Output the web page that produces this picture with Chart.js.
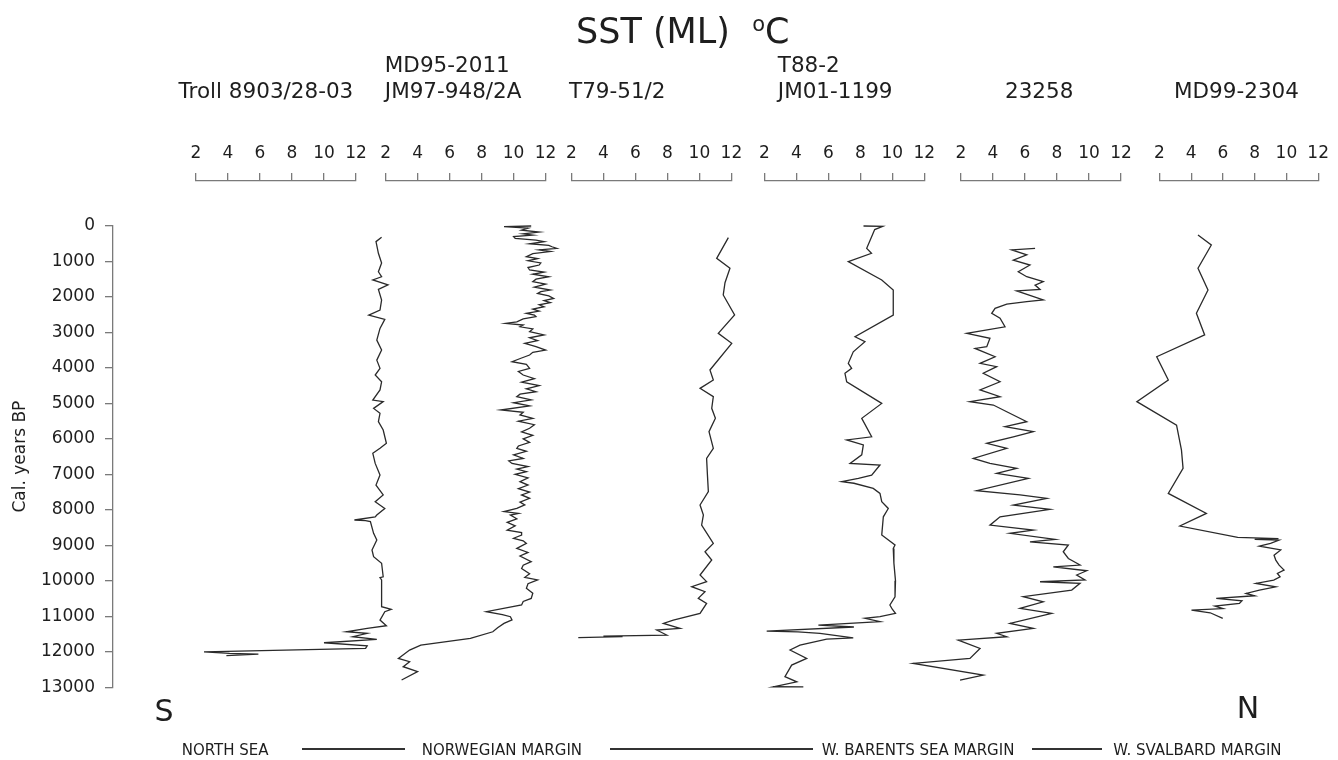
<!DOCTYPE html>
<html><head><meta charset="utf-8">
<script src="https://cdn.jsdelivr.net/npm/chart.js@4.4.1/dist/chart.umd.min.js"></script>
<style>
html,body{margin:0;padding:0;background:#fff;}
#wrap{position:relative;width:1338px;height:760px;overflow:hidden;font-family:"DejaVu Sans",sans-serif;color:#1e1e1e;background:#fff;}
#wrap canvas{position:absolute;left:0;top:0;}
.t{position:absolute;white-space:nowrap;line-height:1;}
.ln{position:absolute;height:0;border-top:2px solid #333;}
</style></head>
<body><div id="wrap"></div>
<script>
// ---------------- data (ages in cal. years BP, SST in °C read against each panel's axis) ----------------
const coreLabels = [["Troll 8903/28-03"], ["MD95-2011", "JM97-948/2A"], ["T79-51/2"], ["T88-2", "JM01-1199"], ["23258"], ["MD99-2304"]];
const regionLabels = ["NORTH SEA", "NORWEGIAN MARGIN", "W. BARENTS SEA MARGIN", "W. SVALBARD MARGIN"];
const chartTitle = "SST (ML)";
const yAxisTitle = "Cal. years BP";

const trollAge = [320,440,770,1045,1290,1430,1520,1660,1785,2085,2370,2510,2630,2885,3215,3495,3780,4010,4200,4390,4620,4905,4950,5140,5280,5515,5750,6125,6265,6405,6690,7020,7300,7580,7770,7960,8145,8200,8285,8300,8330,8660,8850,9130,9320,9505,9885,9910,9975,10730,10805,10870,11105,11265,11340,11435,11480,11575,11650,11745,11830,11905,12000,12045,12065,12110];
const trollSST = [13.6,13.25,13.4,13.6,13.4,13.6,13.05,14.0,13.4,13.6,13.5,12.8,13.8,13.5,13.3,13.6,13.3,13.5,13.2,13.6,13.5,13.05,13.7,13.1,13.5,13.4,13.7,13.9,13.5,13.05,13.2,13.5,13.25,13.7,13.2,13.8,13.3,13.2,11.9,12.6,12.9,13.1,13.3,13.0,13.1,13.6,13.7,13.5,13.6,13.6,14.2,13.8,13.5,13.9,12.7,11.4,12.7,11.8,13.3,10.0,12.7,12.6,2.5,4.1,5.9,3.9];

const md95Age = [0,20,60,115,170,220,255,300,350,400,440,500,545,585,630,675,720,780,865,920,980,1040,1100,1170,1240,1300,1360,1430,1500,1570,1640,1720,1805,1850,1900,1970,2040,2100,2160,2220,2275,2340,2400,2460,2510,2555,2620,2700,2745,2790,2840,2900,2980,3070,3150,3230,3305,3400,3495,3560,3635,3720,3825,3900,4010,4100,4200,4300,4400,4500,4590,4670,4740,4810,4900,4980,5070,5185,5250,5325,5420,5500,5600,5700,5800,5900,6000,6100,6200,6265,6350,6450,6550,6620,6690,6780,6850,6925,7000,7100,7205,7300,7400,7500,7580,7675,7780,7860,7960,8050,8100,8145,8250,8350,8450,8570,8640,8710,8800,8870,8945,9085,9200,9300,9460,9560,9650,9800,9900,9975,10080,10210,10350,10495,10580,10680,10870,10950,11010,11100,11200,11320,11435,11620,11810,11950,12185,12280,12420,12560,12795];
const md95SST = [11.1,9.4,10.9,10.5,11.6,10.6,11.2,10.0,10.1,11.4,11.9,11.0,12.2,12.4,12.7,11.6,12.3,11.2,10.8,11.5,10.9,11.7,11.6,10.9,11.0,11.9,11.2,12.2,11.4,11.2,12.0,11.3,12.3,11.7,11.5,12.2,12.5,11.9,12.3,11.6,11.9,11.2,11.6,10.8,11.3,11.4,10.6,10.2,9.5,10.6,10.4,11.2,11.0,11.9,11.0,11.5,10.7,11.4,12.0,11.2,11.0,10.5,9.9,10.8,11.0,10.3,10.6,11.3,10.5,11.6,10.8,11.4,10.4,10.2,11.1,10.0,11.0,9.2,10.6,10.4,11.2,10.3,11.3,11.0,10.5,11.2,10.6,11.0,10.3,10.2,10.8,10.0,10.6,9.7,9.9,10.9,10.2,10.8,10.1,10.9,10.4,10.9,10.3,11.0,10.5,11.0,10.4,10.7,10.2,9.4,10.3,9.8,10.2,9.6,10.1,9.6,10.5,10.5,10.0,10.6,10.8,10.2,10.9,10.4,11.1,10.6,10.5,11.0,10.7,11.5,10.9,10.8,11.2,11.1,10.6,10.5,8.3,9.3,9.8,9.9,9.4,9.0,8.7,7.3,4.2,3.5,2.8,3.5,3.1,4.0,3.0];

const t79Age = [329,911,1193,1600,1944,2507,3025,3307,4058,4340,4575,4810,5138,5420,5795,6265,6547,7000,7486,7862,8144,8426,8943,9178,9413,9835,10023,10164,10305,10493,10634,10916,11104,11198,11339,11386,11527,11560,11570,11602];
const t79SST = [11.81,11.08,11.91,11.6,11.49,12.2,11.18,12.02,10.66,10.87,10.04,10.87,10.77,11.0,10.6,10.87,10.45,10.5,10.56,10.04,10.25,10.14,10.87,10.35,10.77,10.04,10.45,9.52,10.35,9.93,10.45,10.04,8.37,7.75,8.79,7.33,7.96,4.0,5.2,2.43];

const t88Age = [0,10,100,630,770,1005,1520,1805,2510,3120,3260,3545,3870,4010,4150,4390,5000,5420,5940,6030,6170,6450,6690,6735,7020,7110,7205,7250,7395,7535,7770,7960,8195,8710,8990,9085,9500,10000,10450,10680,10800,10915,11010,11055,11150,11245,11300,11415,11440,11480,11605,11640,11810,11950,12185,12375,12700,12845,12985,12990];
const t88SST = [8.2,9.4,8.9,8.4,8.7,7.25,9.34,10.06,10.06,7.67,8.29,7.56,7.25,7.46,7.04,7.15,9.34,8.09,8.71,7.15,8.19,8.09,7.36,9.23,8.71,7.88,6.84,7.6,8.81,9.23,9.34,9.75,9.44,9.34,10.17,10.06,10.1,10.2,10.17,9.85,10.0,10.2,9.23,8.29,9.23,5.38,7.6,2.15,4.1,5.48,7.56,5.9,4.23,3.61,4.65,3.71,3.29,4.03,2.56,4.44];

const c23258Age = [630,675,815,960,1100,1290,1430,1570,1665,1790,1830,2085,2130,2200,2320,2460,2600,2840,3025,3165,3400,3450,3685,3870,3965,4150,4390,4620,4810,4950,5045,5235,5515,5655,5795,5940,6125,6265,6550,6690,6830,6970,7110,7460,7580,7675,7865,7985,8195,8430,8570,8660,8830,8900,8990,9180,9370,9555,9605,9715,9835,9975,10025,10070,10260,10445,10590,10775,10915,11200,11340,11480,11575,11670,11905,12185,12325,12655,12795];
const c23258SST = [6.63,5.17,6.11,5.27,6.31,5.58,6.11,7.14,6.63,6.94,5.48,7.14,6.11,4.86,4.13,3.92,4.44,4.75,2.36,3.81,3.61,2.88,4.13,3.19,4.23,3.39,4.44,3.19,4.44,2.56,4.02,4.86,6.11,4.75,6.52,5.27,3.61,4.86,2.77,3.81,5.48,4.23,6.21,2.98,5.69,7.36,5.27,7.56,4.44,3.81,6.52,5.06,7.88,6.31,8.71,8.39,8.71,9.44,7.77,9.86,9.23,9.75,6.94,9.44,8.92,5.89,7.14,5.69,7.67,5.06,6.52,4.23,4.86,1.83,3.19,2.56,-0.98,3.39,1.94];

const md99Age = [255,535,1190,1805,2460,3070,3685,4340,4950,5610,6315,6830,7535,8100,8455,8775,8810,8830,8850,8944,9020,9130,9275,9415,9556,9697,9791,9885,9979,10073,10167,10261,10355,10420,10496,10562,10637,10712,10780,10825,10900,11060];
const md99SST = [4.43,5.27,4.43,5.06,4.33,4.85,1.83,2.56,0.58,3.08,3.39,3.49,2.56,4.96,3.29,6.93,9.5,8.0,9.54,9.0,8.29,9.64,9.22,9.33,9.54,9.85,9.43,9.6,9.2,8.08,9.33,8.3,7.46,8.0,5.58,7.2,7.04,5.5,6.0,4.02,5.2,5.99];

const series = [[trollAge,trollSST],[md95Age,md95SST],[t79Age,t79SST],[t88Age,t88SST],[c23258Age,c23258SST],[md99Age,md99SST]];

// ---------------- layout (page pixels) ----------------
const W = 1338, H = 760;
const panelLeft = [196, 385.6, 571.4, 764.3, 961, 1159.4];
const panelWidth = 160;
const axisLineY = 181, plotTop = 226, plotBottom = 687.3;
const yMax = 13000;
const yPerPx = yMax / (plotBottom - plotTop);
const yTopExt = -(plotTop - axisLineY) * yPerPx;   // hidden extension so the top axis sits above 0
const AXH = 60;
const FONT = "'DejaVu Sans', sans-serif";
const ink = '#1e1e1e', axisCol = '#7a7a7a', traceCol = '#2a2a2a';

const wrap = document.getElementById('wrap');
function mkCanvas(){ const c = document.createElement('canvas'); c.width = W; c.height = H; c.style.width=W+'px'; c.style.height=H+'px'; wrap.appendChild(c); return c; }

// y axis chart
new Chart(mkCanvas(), {
  type: 'line',
  data: { datasets: [] },
  options: {
    responsive: false, animation: false, events: [],
    layout: { padding: { left: 6, top: plotTop, bottom: H - plotBottom, right: W - 113 - 20 } },
    plugins: { legend: { display: false }, tooltip: { enabled: false } },
    scales: {
      x: { type: 'linear', display: false, min: 0, max: 1 },
      y: {
        type: 'linear', reverse: true, min: 0, max: yMax,
        afterFit(s){ s.width = 107; },
        ticks: { stepSize: 1000, color: ink, padding: 10, font: { family: FONT, size: 17 }, callback: v => String(v) },
        grid: { drawOnChartArea: false, tickLength: 8, color: axisCol, lineWidth: 1.3 },
        border: { color: axisCol, width: 1.3 },
        title: { display: true, text: yAxisTitle, color: ink, font: { family: FONT, size: 17 }, padding: { top: 4, bottom: 4 } }
      }
    }
  }
});

// panel charts
series.forEach((s, i) => {
  const [ages, sst] = s;
  const left = panelLeft[i], right = left + panelWidth;
  new Chart(mkCanvas(), {
    type: 'line',
    data: { datasets: [{
      data: ages.map((a, k) => ({ x: sst[k], y: a })),
      borderColor: traceCol, borderWidth: 1.3, pointRadius: 0, tension: 0, fill: false, clip: false
    }]},
    options: {
      indexAxis: 'y',
      responsive: false, animation: false, events: [],
      layout: { padding: { left: left, right: W - right, top: axisLineY - AXH, bottom: H - plotBottom } },
      plugins: { legend: { display: false }, tooltip: { enabled: false } },
      scales: {
        x: {
          type: 'linear', position: 'top', min: 2, max: 12,
          afterFit(sc){ sc.height = AXH; },
          ticks: { stepSize: 2, color: ink, padding: 9, maxRotation: 0, font: { family: FONT, size: 17 }, callback: v => String(v) },
          grid: { drawOnChartArea: false, tickLength: 8, color: axisCol, lineWidth: 1.3 },
          border: { color: axisCol, width: 1.3 }
        },
        y: { type: 'linear', reverse: true, min: yTopExt, max: yMax, display: false }
      }
    }
  });
});

// ---------------- text ----------------
function txt(str, x, y, size, anchor, extra){
  const d = document.createElement('div'); d.className = 't';
  d.style.fontSize = size + 'px';
  d.style.left = x + 'px'; d.style.top = y + 'px';
  const tx = anchor === 'left' ? '0' : anchor === 'right' ? '-100%' : '-50%';
  d.style.transform = 'translate(' + tx + ',-50%)' + (extra || '');
  d.innerHTML = str; wrap.appendChild(d); return d;
}
txt(chartTitle + '&nbsp;&nbsp;<span style="font-size:60%;position:relative;top:-0.55em">o</span>C', 576, 31, 35, 'left');
// core labels: [left x, y of last line]
const labelPos = [[178.6, 91], [384.8, 91], [569, 91], [777.8, 91], [1005, 91], [1174, 91]];
coreLabels.forEach((lines, i) => {
  const [x, y] = labelPos[i];
  lines.forEach((ln, k) => txt(ln, x, y - (lines.length - 1 - k) * 26, 21.5, 'left'));
});
txt('S', 164, 711, 30, 'center');
txt('N', 1248, 708, 30, 'center');
const regionX = [[181.7, 271.7], [421.7, 590], [821.7, 1026.7], [1113.3, 1288.3]];
regionLabels.forEach((r, i) => {
  txt(r, regionX[i][0], 750, 15, 'left');
});
[[301.7, 405], [610, 813.3], [1031.7, 1101.7]].forEach(([a, b]) => {
  const d = document.createElement('div'); d.className = 'ln';
  d.style.left = a + 'px'; d.style.width = (b - a) + 'px'; d.style.top = '748px';
  wrap.appendChild(d);
});
</script>
</body></html>
